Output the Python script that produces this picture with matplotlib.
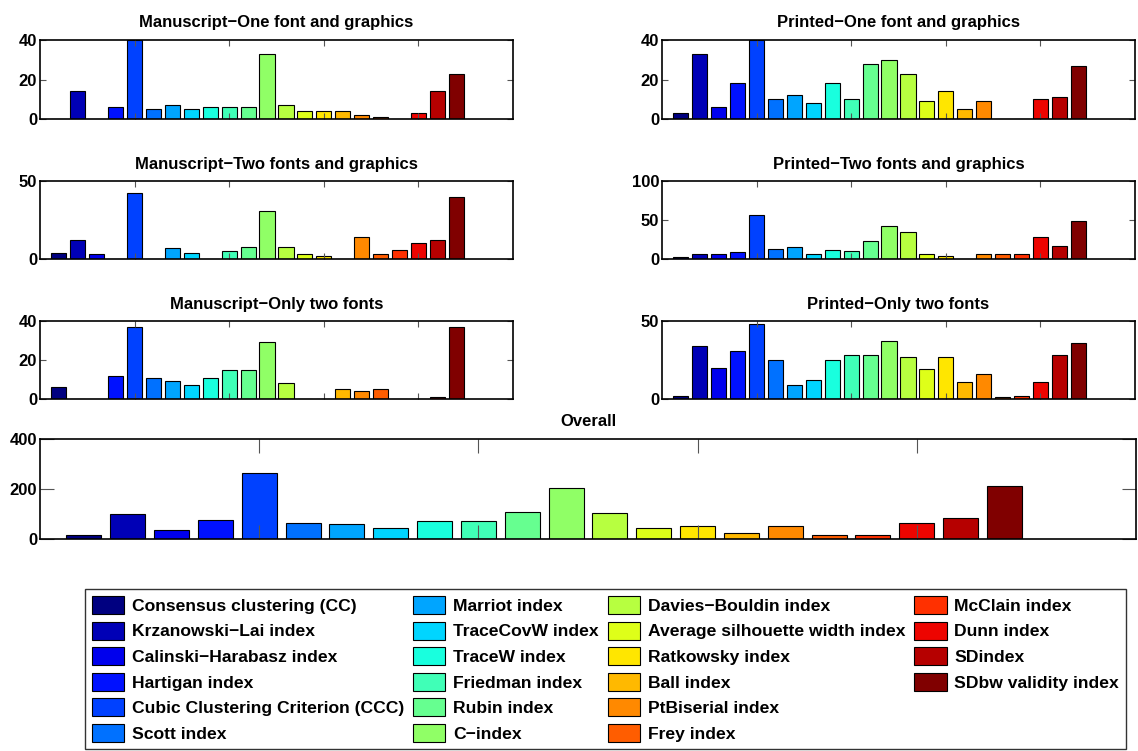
import numpy as np
import matplotlib
matplotlib.use("Agg")
import matplotlib.pyplot as plt
from matplotlib.patches import Patch

plt.rcParams['font.family'] = ['Liberation Sans', 'DejaVu Sans']
plt.rcParams['font.weight'] = 'bold'

indices = [
    "Consensus clustering (CC)", "Krzanowski\u2212Lai index", "Calinski\u2212Harabasz index",
    "Hartigan index", "Cubic Clustering Criterion (CCC)", "Scott index",
    "Marriot index", "TraceCovW index", "TraceW index", "Friedman index",
    "Rubin index", "C\u2212index", "Davies\u2212Bouldin index",
    "Average silhouette width index", "Ratkowsky index", "Ball index",
    "PtBiserial index", "Frey index", "McClain index", "Dunn index",
    "SDindex", "SDbw validity index",
]

manuscript_one = [0, 14, 0, 6, 40, 5, 7, 5, 6, 6, 6, 33, 7, 4, 4, 4, 2, 1, 0, 3, 14, 23]
printed_one = [3, 33, 6, 18, 40, 10, 12, 8, 18, 10, 28, 30, 23, 9, 14, 5, 9, 0, 0, 10, 11, 27]
manuscript_two = [4, 12, 3, 0, 42, 0, 7, 4, 0, 5, 8, 31, 8, 3, 2, 0, 14, 3, 6, 10, 12, 40]
printed_two = [2, 7, 7, 9, 56, 13, 16, 7, 12, 10, 23, 42, 34, 7, 4, 0, 7, 6, 7, 28, 17, 49]
manuscript_only = [6, 0, 0, 12, 37, 11, 9, 7, 11, 15, 15, 29, 8, 0, 0, 5, 4, 5, 0, 0, 1, 37]
printed_only = [2, 34, 20, 31, 48, 25, 9, 12, 25, 28, 28, 37, 27, 19, 27, 11, 16, 1, 2, 11, 28, 36]
overall = [17, 100, 37, 75, 264, 65, 60, 45, 72, 73, 107, 203, 106, 44, 52, 25, 53, 17, 16, 64, 83, 212]

panels = [
    ("Manuscript\u2212One font and graphics", manuscript_one, [0, 20, 40]),
    ("Printed\u2212One font and graphics", printed_one, [0, 20, 40]),
    ("Manuscript\u2212Two fonts and graphics", manuscript_two, [0, 50]),
    ("Printed\u2212Two fonts and graphics", printed_two, [0, 50, 100]),
    ("Manuscript\u2212Only two fonts", manuscript_only, [0, 20, 40]),
    ("Printed\u2212Only two fonts", printed_only, [0, 50]),
]

colors = plt.cm.jet(np.linspace(0, 1, len(indices)))
x = np.arange(1, len(indices) + 1)

fig = plt.figure(figsize=(11.38, 7.51), dpi=100)

W, H = 1138, 751


def px_axes(x0, y0, x1, y1):
    return fig.add_axes([x0 / W, 1 - y1 / H, (x1 - x0) / W, (y1 - y0) / H])


def style(ax, title, yticks, ticklen):
    ax.set_xlim(0, 25)
    ax.set_ylim(yticks[0], yticks[-1])
    ax.set_xticks([5, 10, 15, 20])
    ax.set_xticklabels([])
    ax.set_yticks(yticks)
    ax.tick_params(direction='in', top=True, right=True, length=ticklen,
                   width=0.8, color='#555555', labelsize=12, pad=2)
    for lab in ax.get_yticklabels():
        lab.set_fontweight('bold')
    for s in ax.spines.values():
        s.set_linewidth(1.2)
    ax.set_title(title, fontsize=12, fontweight='bold', pad=9)


rows = [(40, 119), (181, 259), (321, 399)]
cols = [(40, 513), (662, 1135)]
for i, (title, vals, yt) in enumerate(panels):
    y0, y1 = rows[i // 2]
    x0, x1 = cols[i % 2]
    ax = px_axes(x0, y0, x1, y1)
    ax.bar(x, vals, width=0.8, color=colors, edgecolor='black', linewidth=0.8)
    style(ax, title, yt, 4)

ax = px_axes(40, 439, 1136, 539)
ax.bar(x, overall, width=0.8, color=colors, edgecolor='black', linewidth=0.8)
style(ax, "Overall", [0, 200, 400], 10)

# legend: 6 rows, columns of 6/6/6/4 -> pad with two empty entries
handles = [Patch(facecolor=c, edgecolor='black', linewidth=0.8) for c in colors]
labels = list(indices)
handles += [Patch(facecolor='none', edgecolor='none')] * 2
labels += ["", ""]
leg = fig.legend(handles, labels, ncol=4, loc='center',
                 bbox_to_anchor=((84 + 1127) / 2 / W, 1 - (588 + 750) / 2 / H),
                 prop={'weight': 'bold', 'size': 12.6},
                 handlelength=1.85, handleheight=1.2, handletextpad=0.45,
                 labelspacing=0.44, columnspacing=0.5, borderpad=0.4,
                 frameon=True, fancybox=False)
leg.get_frame().set_edgecolor('black')
leg.get_frame().set_linewidth(1.0)

fig.savefig("out.png", dpi=100)
